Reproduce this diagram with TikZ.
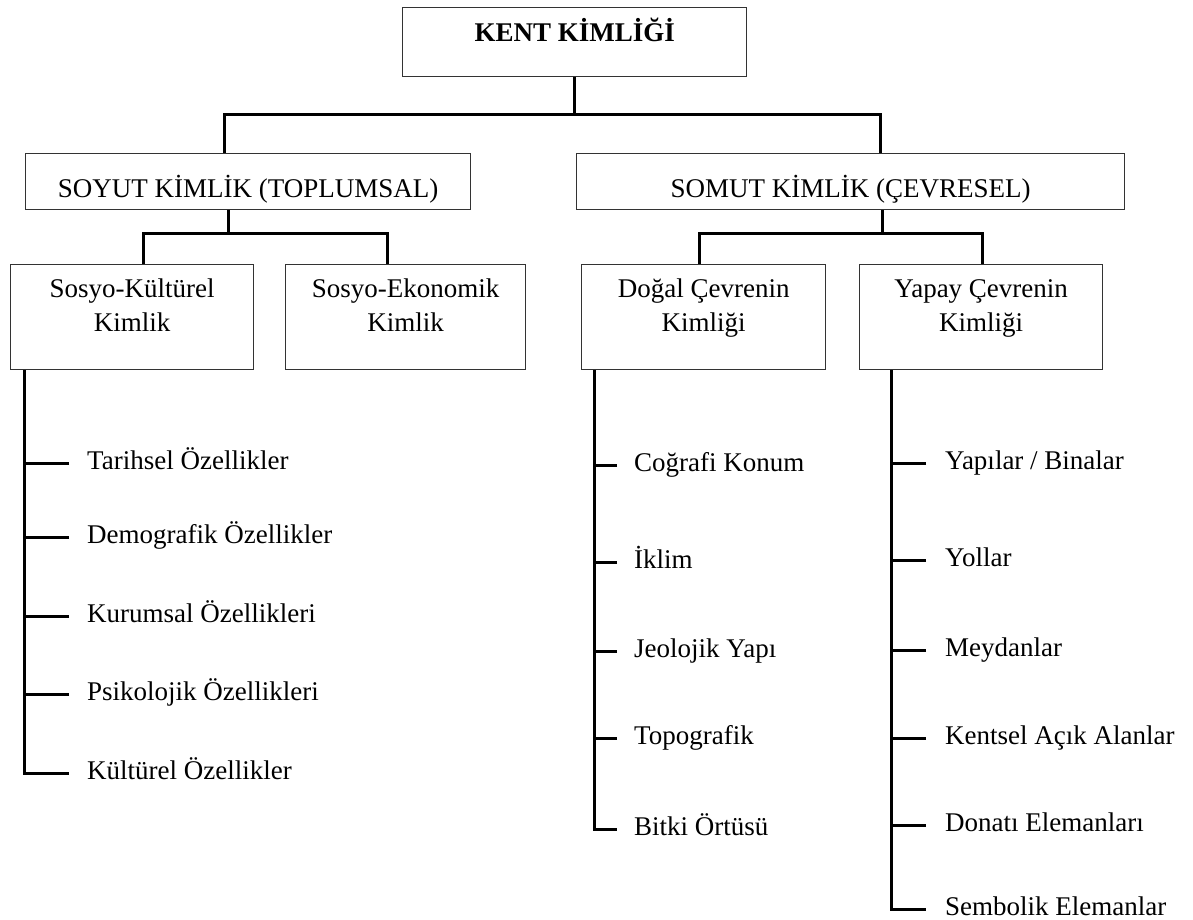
\documentclass[tikz,border=0pt]{standalone}
\usepackage{fontspec}
\setmainfont{Liberation Serif}
\usetikzlibrary{positioning}

\begin{document}
\begin{tikzpicture}[
    x=1pt, y=-1pt,
    font=\fontsize{27}{34}\selectfont,
    l/.style={
        line width=3pt,
        color=black
    },
    bx/.style={
        draw=black!80, line width=1.4pt,
        anchor=north west, inner sep=0pt
    },
    tx/.style={inner sep=0pt, align=center},
    it/.style={anchor=west, inner sep=0pt, text height=12pt, text depth=0pt}
]
\useasboundingbox (0,0) rectangle (1193,920);

% boxes
\node [bx, minimum width=344, minimum height=69] (kent) at (402,7) {};
\node [bx, minimum width=445, minimum height=56] (sy) at (25,153) {};
\node [bx, minimum width=548, minimum height=56] (so) at (576,153) {};
\node [bx, minimum width=243, minimum height=105] (sk) at (10,264) {};
\node [bx, minimum width=240, minimum height=105] (se) at (285,264) {};
\node [bx, minimum width=244, minimum height=105] (dc) at (581,264) {};
\node [bx, minimum width=243, minimum height=105] (yc) at (859,264) {};

% box texts
\node [tx, anchor=base] (kent-t) at (kent.north |- 0,42) {\textbf{KENT KİMLİĞİ}};
\node [tx, anchor=base] (sy-t) at (sy.north |- 0,197) {SOYUT KİMLİK (TOPLUMSAL)};
\node [tx, anchor=base] (so-t) at (so.north |- 0,197) {SOMUT KİMLİK (ÇEVRESEL)};
\node [tx, below=15pt of sk.north] (sk-t) {Sosyo-Kültürel\\Kimlik};
\node [tx, below=15pt of se.north] (se-t) {Sosyo-Ekonomik\\Kimlik};
\node [tx, below=15pt of dc.north] (dc-t) {Doğal Çevrenin\\Kimliği};
\node [tx, below=15pt of yc.north] (yc-t) {Yapay Çevrenin\\Kimliği};

% tree
\coordinate (b1l) at (224,115);
\coordinate (b1r) at (880,115);
\draw [l] (kent.south) -- (kent.south |- b1l);
\draw [l] (sy.north -| b1l) |- (b1r) -- (so.north -| b1r);

\coordinate (b2l) at (228,233);
\coordinate (b2a) at (143,233);
\coordinate (b2b) at (387,233);
\draw [l] (sy.south -| b2l) -- (b2l);
\draw [l] (sk.north -| b2a) |- (b2b) -- (se.north -| b2b);

\coordinate (b2r) at (882,233);
\coordinate (b2c) at (699,233);
\coordinate (b2d) at (982,233);
\draw [l] (so.south -| b2r) -- (b2r);
\draw [l] (dc.north -| b2c) |- (b2d) -- (yc.north -| b2d);

% sosyo-kulturel list
\node [it] (tar) at (87,463) {Tarihsel Özellikler};
\node [it] (dem) at (87,537) {Demografik Özellikler};
\node [it] (kur) at (87,616) {Kurumsal Özellikleri};
\node [it] (psi) at (87,694) {Psikolojik Özellikleri};
\node [it] (kul) at (87,773) {Kültürel Özellikler};

\coordinate (ls) at ([xshift=14pt]sk.south west);
\draw [l] (ls) |- ([xshift=-18pt]kul.west);
\draw [l] ([xshift=-18pt]tar.west) -- ++(-45,0);
\draw [l] ([xshift=-18pt]dem.west) -- ++(-45,0);
\draw [l] ([xshift=-18pt]kur.west) -- ++(-45,0);
\draw [l] ([xshift=-18pt]psi.west) -- ++(-45,0);

% dogal cevre list
\node [it] (cog) at (634,465) {Coğrafi Konum};
\node [it] (ikl) at (634,562) {İklim};
\node [it] (jeo) at (634,651) {Jeolojik Yapı};
\node [it] (top) at (634,738) {Topografik};
\node [it] (bit) at (634,829) {Bitki Örtüsü};

\coordinate (ds) at ([xshift=13pt]dc.south west);
\draw [l] (ds) |- ([xshift=-17pt]bit.west);
\draw [l] ([xshift=-17pt]cog.west) -- ++(-23,0);
\draw [l] ([xshift=-17pt]ikl.west) -- ++(-23,0);
\draw [l] ([xshift=-17pt]jeo.west) -- ++(-23,0);
\draw [l] ([xshift=-17pt]top.west) -- ++(-23,0);

% yapay cevre list
\node [it] (yap) at (945,463) {Yapılar / Binalar};
\node [it] (yol) at (945,560) {Yollar};
\node [it] (mey) at (945,650) {Meydanlar};
\node [it] (ken) at (945,738) {Kentsel Açık Alanlar};
\node [it] (don) at (945,825) {Donatı Elemanları};
\node [it] (sem) at (945,909) {Sembolik Elemanlar};

\coordinate (ys) at ([xshift=32pt]yc.south west);
\draw [l] (ys) |- ([xshift=-19pt]sem.west);
\draw [l] ([xshift=-19pt]yap.west) -- ++(-35,0);
\draw [l] ([xshift=-19pt]yol.west) -- ++(-35,0);
\draw [l] ([xshift=-19pt]mey.west) -- ++(-35,0);
\draw [l] ([xshift=-19pt]ken.west) -- ++(-35,0);
\draw [l] ([xshift=-19pt]don.west) -- ++(-35,0);

\end{tikzpicture}
\end{document}
